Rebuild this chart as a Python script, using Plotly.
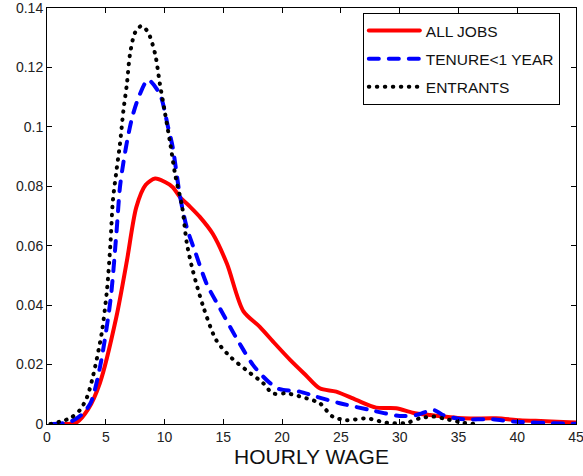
import plotly.graph_objects as go

# ALL JOBS
all_x = [0.5, 1.5, 2.5, 3.5, 4.5, 5.9, 6.8, 7.6, 8.4, 9.2, 10.0, 10.7, 11.3, 12.2, 13.0, 14.1, 15.3, 16.7, 18.1, 19.4, 20.7, 22.0, 23.2, 24.6, 26.3, 28.0, 29.7, 31.1, 32.6, 35.4, 38.2, 40.2, 42.0, 43.9, 45.0]
all_y = [0.0, 0.0, 0.0005, 0.005, 0.0138, 0.036, 0.055, 0.073, 0.0805, 0.0826, 0.0815, 0.0797, 0.0764, 0.073, 0.0697, 0.064, 0.054, 0.038, 0.0327, 0.027, 0.0215, 0.0165, 0.012, 0.0109, 0.0081, 0.0055, 0.0053, 0.0038, 0.003, 0.0019, 0.0019, 0.0013, 0.001, 0.0007, 0.0005]

# TENURE<1 YEAR
ten_x = [0.5, 1.2, 2.0, 2.9, 3.7, 4.5, 5.4, 5.9, 6.2, 6.5, 6.9, 7.3, 7.9, 8.6, 9.6, 10.3, 10.7, 11.3, 11.9, 12.6, 13.6, 14.7, 16.1, 17.5, 18.4, 19.0, 19.8, 21.5, 22.9, 24.9, 27.5, 30.0, 31.4, 32.9, 33.7, 35.4, 37.9, 39.7, 43.9, 45.0]
ten_y = [0.0, 0.0002, 0.0008, 0.003, 0.007, 0.019, 0.0417, 0.064, 0.0795, 0.088, 0.097, 0.104, 0.111, 0.1158, 0.111, 0.0999, 0.093, 0.077, 0.066, 0.058, 0.047, 0.039, 0.029, 0.020, 0.0159, 0.0137, 0.0117, 0.0109, 0.0092, 0.007, 0.0047, 0.0027, 0.003, 0.0047, 0.003, 0.0016, 0.0016, 0.0008, 0.0002, 0.0001]

# ENTRANTS
ent_x = [0.3, 1.1, 2.0, 2.8, 3.4, 3.9, 4.65, 5.1, 5.4, 5.6, 5.9, 6.2, 6.5, 6.8, 7.06, 7.5, 8.05, 8.6, 9.2, 9.6, 10.0, 10.5, 10.9, 11.5, 11.9, 12.4, 13.3, 14.4, 15.6, 17.0, 18.4, 19.2, 20.4, 22.1, 23.2, 24.3, 25.5, 27.2, 28.9, 30.6, 31.7, 32.9, 34.0, 35.4, 36.5]
ent_y = [0.0, 0.0008, 0.002, 0.0047, 0.009, 0.0159, 0.0305, 0.045, 0.061, 0.075, 0.085, 0.094, 0.1055, 0.1145, 0.1245, 0.1318, 0.134, 0.1318, 0.1245, 0.1145, 0.1055, 0.094, 0.084, 0.073, 0.0607, 0.0517, 0.0394, 0.0282, 0.0226, 0.018, 0.0137, 0.0103, 0.0103, 0.0086, 0.007, 0.0025, 0.0013, 0.0019, 0.0004, 0.0004, 0.0019, 0.0025, 0.0016, 0.0004, 0.0]

x_ticks = [0, 5, 10, 15, 20, 25, 30, 35, 40, 45]
y_ticks = [0, 0.02, 0.04, 0.06, 0.08, 0.1, 0.12, 0.14]
y_tick_text = ["0", "0.02", "0.04", "0.06", "0.08", "0.1", "0.12", "0.14"]

fig = go.Figure()
fig.add_trace(go.Scatter(x=all_x, y=all_y, mode="lines", name="ALL JOBS", legendgroup="a",
                         line=dict(color="#ff0000", width=4, shape="spline", smoothing=0.8)))
fig.add_trace(go.Scatter(x=ten_x, y=ten_y, mode="lines", name="TENURE<1 YEAR", legendgroup="b",
                         line=dict(color="#0000ff", width=4, dash="10px,10px", shape="spline", smoothing=0.8)))
fig.add_trace(go.Scatter(x=ent_x, y=ent_y, mode="lines", name="ENTRANTS", legendgroup="c",
                         line=dict(color="#000000", width=4, dash="0.5px,7.5px", shape="spline", smoothing=0.8)))

axis_common = dict(showline=True, linecolor="black", linewidth=1, mirror="ticks",
                   ticks="inside", ticklen=5, tickcolor="black", showgrid=False, automargin=False,
                   ticklabeloverflow="allow",
                   zeroline=False, tickfont=dict(family="Liberation Sans, Arial", size=14, color="#222"))

fig.update_xaxes(range=[0, 45.0001], tickvals=x_ticks, **axis_common,
                 title=dict(text="HOURLY WAGE", font=dict(family="Liberation Sans, Arial", size=21, color="#111"), standoff=4))
fig.update_yaxes(range=[0, 0.140001], tickvals=y_ticks, ticktext=y_tick_text, **axis_common)

fig.update_layout(
    width=583, height=476,
    margin=dict(l=47, r=7, t=8, b=52),
    paper_bgcolor="white", plot_bgcolor="white",
    showlegend=True,
    legend=dict(x=0.597, y=0.988, xanchor="left", yanchor="top",
                bordercolor="black", borderwidth=1, bgcolor="white",
                font=dict(family="Liberation Sans, Arial", size=15.5, color="#111"),
                tracegroupgap=5, itemwidth=52, entrywidth=140),
)

post = """
var s = document.createElement('style');
s.innerHTML = 'html, body { margin: 0; padding: 0; overflow: hidden; } path.js-line { stroke-linecap: round; stroke-linejoin: round; }';
document.head.appendChild(s);
document.querySelectorAll('g.legendlines path').forEach(function(p){ p.setAttribute('d', 'M5,0h51'); });
"""
fig.write_html("out.html", post_script=post, config={"displayModeBar": False})
